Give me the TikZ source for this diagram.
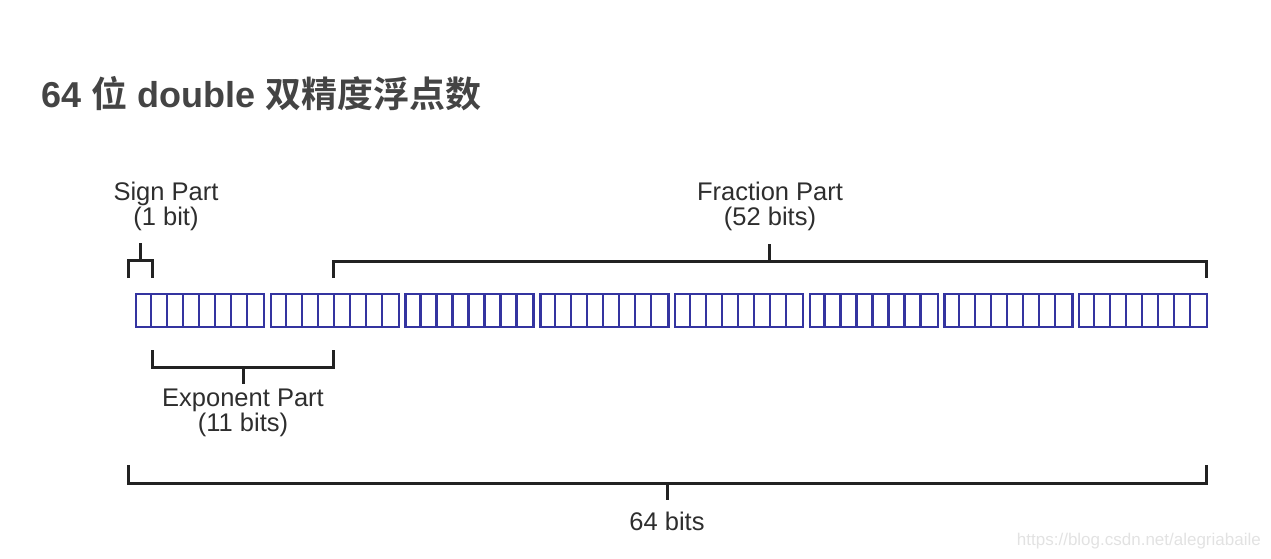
\documentclass[tikz,border=0pt]{standalone}
\usepackage{fontspec}
\setmainfont{Liberation Sans}
\newfontfamily\cjk{Noto Sans CJK SC}[BoldFont={* Bold}]
\definecolor{titlegray}{HTML}{444444}
\definecolor{labelgray}{HTML}{2E2E2E}
\definecolor{bitblue}{HTML}{3434A0}
\definecolor{brk}{HTML}{222222}
\definecolor{wm}{HTML}{E2E2E2}
\begin{document}
\begin{tikzpicture}[x=1pt,y=-1pt,
  bytebox/.style={draw=bitblue,line width=2.4pt,minimum width=128pt,minimum height=33pt,inner sep=0pt,anchor=north west},
  brack/.style={draw=brk,line width=3pt},
  lbl/.style={text=labelgray,font=\fontsize{25.5}{25}\selectfont,align=center,inner sep=0pt}]
\useasboundingbox (0,0) rectangle (1271,558);
% title
\node[anchor=west,text=titlegray,inner sep=0pt,font=\fontsize{36}{38}\selectfont\bfseries] (title) at (41,94)
  {64 {\cjk 位} double {\cjk 双精度浮点数}};
% bytes
\foreach \i in {0,...,7}{
  \pgfmathsetmacro{\xx}{135+134.7*\i}
  \node[bytebox] (b\i) at (\xx,293) {};
  \foreach \k in {1,...,7}{
    \draw[bitblue,line width=2.2pt] ([xshift=16*\k pt]b\i.north west) -- ([xshift=16*\k pt]b\i.south west);
  }
}
% sign bracket
\coordinate (s1) at (128,278);
\coordinate (s2) at (152,278);
\coordinate (sm) at (140,260);
\draw[brack] (s1) |- (sm) -| (s2);
\node[lbl] (sign) at (166,206) {Sign Part\\(1 bit)};
\draw[brack] (sm) -- ++(0,-17);
% fraction bracket
\coordinate (f1) at (333,278);
\coordinate (f2) at (1206,278);
\coordinate (fm) at (769,261);
\draw[brack] (f1) |- (fm) -| (f2);
\node[lbl] (frac) at (770,206) {Fraction Part\\(52 bits)};
\draw[brack] (fm) -- ++(0,-17);
% exponent bracket
\coordinate (e1) at (152,350);
\coordinate (e2) at (333,350);
\coordinate (em) at (243,367);
\draw[brack] (e1) |- (em) -| (e2);
\node[lbl] (expo) at (243,413) {Exponent Part\\(11 bits)};
\draw[brack] (em) -- ++(0,17);
% total bracket
\coordinate (t1) at (128,465);
\coordinate (t2) at (1206,465);
\coordinate (tm) at (667,483);
\draw[brack] (t1) |- (tm) -| (t2);
\node[lbl] (total) at (667,521) {64 bits};
\draw[brack] (tm) -- ++(0,17);
% watermark
\node[anchor=east,text=wm,inner sep=0pt,font=\fontsize{17}{19}\selectfont] (wmark) at (1261,541) {https://blog.csdn.net/alegriabaile};
\end{tikzpicture}
\end{document}
